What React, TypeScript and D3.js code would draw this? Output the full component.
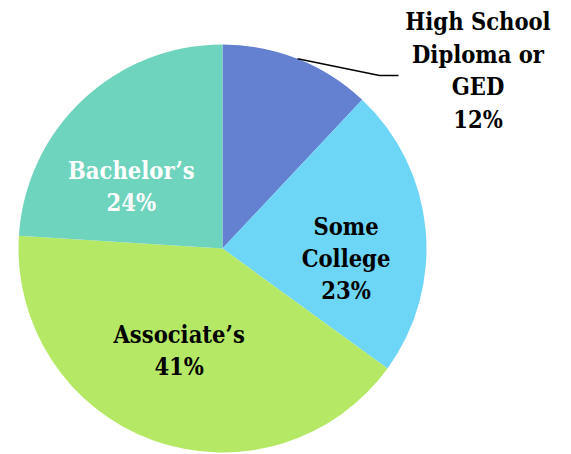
import React, { useEffect, useRef } from 'react';
import * as d3 from 'd3';

const categories = ["High School Diploma or GED", "Some College", "Associate's", "Bachelor's"];
const shares = [12, 23, 41, 24];
const labelLines = [
  ["High School", "Diploma or", "GED", "12%"],
  ["Some", "College", "23%"],
  ["Associate\u2019s", "41%"],
  ["Bachelor\u2019s", "24%"],
];
const colors = ["#6380d1", "#6dd5f5", "#b5e965", "#6fd4bd"];
const textColors = ["#000", "#000", "#000", "#fff"];

const W = 571;
const H = 454;

const App: React.FC = () => {
  const svgRef = useRef<SVGSVGElement>(null);

  useEffect(() => {
    if (!svgRef.current) return;
    const svg = d3.select(svgRef.current);
    svg.selectAll("*").remove();

    const cx = 222.5, cy = 248.5, r = 204;
    const g = svg.append("g").attr("transform", `translate(${cx},${cy})`);

    const pie = d3.pie<number>().sort(null).value(d => d);
    const arcs = pie(shares);
    const arc = d3.arc<d3.PieArcDatum<number>>().innerRadius(0).outerRadius(r);

    g.selectAll("path.slice")
      .data(arcs)
      .enter().append("path")
      .attr("class", "slice")
      .attr("d", arc)
      .attr("fill", (d, i) => colors[i])
      .append("title")
      .text((d, i) => categories[i]);

    const font = "'DejaVu Serif', serif";
    const fontSize = 23.5;
    const lineH = 32;

    // label anchors: polar position (degrees clockwise from top, radius) per inner slice
    const labelPolar: ([number, number] | null)[] = [null, [95, 124], [203, 111], [304, 110]];

    arcs.forEach((a, i) => {
      const pos = labelPolar[i];
      if (!pos) return;
      const ang = (pos[0] * Math.PI) / 180;
      const x = Math.sin(ang) * pos[1];
      const y = -Math.cos(ang) * pos[1];
      const lines = labelLines[i];
      const t = g.append("text")
        .attr("text-anchor", "middle")
        .attr("font-family", font)
        .attr("font-weight", "bold")
        .attr("font-size", fontSize)
        .style("font-stretch", "condensed")
        .attr("fill", textColors[i]);
      lines.forEach((ln, j) => {
        t.append("tspan")
          .attr("x", x)
          .attr("y", y + (j - (lines.length - 1) / 2) * lineH + 8)
          .text(ln);
      });
    });

    // outside label for the first slice with leader line
    const first = arcs[0];
    const mid = (first.startAngle + first.endAngle) / 2;
    const p0: [number, number] = [Math.sin(mid) * r, -Math.cos(mid) * r];
    const elbow: [number, number] = [157, -173];
    const p2: [number, number] = [176, -173];
    g.append("path")
      .attr("d", d3.line()([p0, elbow, p2]) as string)
      .attr("fill", "none")
      .attr("stroke", "#000")
      .attr("stroke-width", 1.5);

    const t0 = svg.append("text")
      .attr("text-anchor", "middle")
      .attr("font-family", font)
      .attr("font-weight", "bold")
      .attr("font-size", fontSize)
      .style("font-stretch", "condensed")
      .attr("fill", textColors[0]);
    labelLines[0].forEach((ln, j) => {
      t0.append("tspan")
        .attr("x", 478)
        .attr("y", 30 + j * 32.5)
        .text(ln);
    });
  }, []);

  return (
    <svg
      ref={svgRef}
      width={W}
      height={H}
      style={{ position: "absolute", left: 0, top: 0, background: "#fff" }}
    />
  );
};

export default App;
